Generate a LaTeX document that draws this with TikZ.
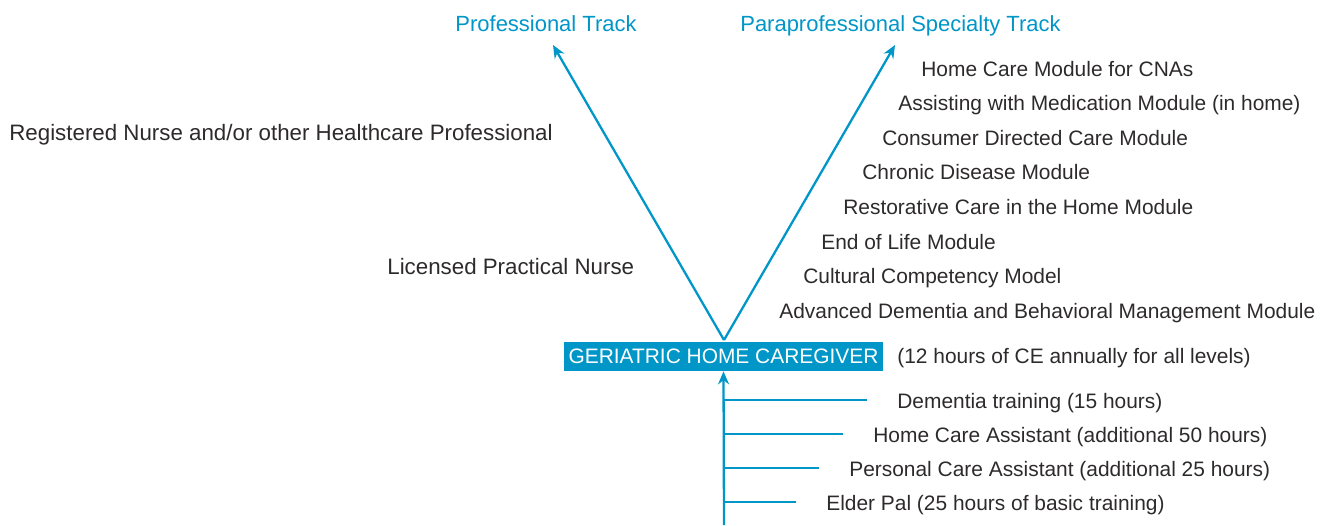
\documentclass[tikz,border=0pt]{standalone}
\usepackage{fontspec}
\setmainfont{Liberation Sans}
\usepackage{xcolor}
\definecolor{trackblue}{RGB}{0,150,200}
\definecolor{textgray}{RGB}{45,42,43}
\usepackage{tikz}
\usetikzlibrary{arrows.meta, positioning}

\begin{document}
\begin{tikzpicture}[
	title/.style={text=trackblue, font=\fontsize{12.5}{14}\selectfont, inner sep=0pt,
	              text height=9pt, text depth=2.5pt},
	item/.style={text=textgray, font=\fontsize{11.9}{14}\selectfont, inner sep=0pt, anchor=west,
	             text height=9pt, text depth=2.5pt},
	wide/.style={item, font=\fontsize{12.7}{14}\selectfont},
	level/.style={rectangle, fill=trackblue, text=white, font=\fontsize{11.9}{14}\selectfont,
	              minimum width=6.38cm, minimum height=0.58cm, inner sep=2pt},
	arr/.style={-{Stealth[length=2.6mm, width=2.2mm]}, draw=trackblue, line width=1.3pt},
	tick/.style={draw=trackblue, line width=1.3pt}
	]
\useasboundingbox (0,0) rectangle (26.5,-10.5);

% Stufe in der Mitte
\node[level] (gh) at (14.47,-7.13) {GERIATRIC HOME CAREGIVER};
\node[item] (ce) at (17.94,-7.16) {(12 hours of CE annually for all levels)};
\coordinate (apex) at (14.48,-6.80);
\coordinate (base) at (14.48,-10.5);

% Zwei Richtungen
\node[title] (pro) at (10.92,-0.52) {Professional Track};
\node[title] (para) at (18.01,-0.52) {Paraprofessional Specialty Track};
\coordinate (protip) at (11.06,-0.90);
\coordinate (paratip) at (17.90,-0.90);
\draw[arr] (apex) -- (protip);
\draw[arr] (apex) -- (paratip);

% Professional track
\node[wide] (rn) at (0.18,-2.70) {Registered Nurse and/or other Healthcare Professional};
\node[wide] (lpn) at (7.74,-5.38) {Licensed Practical Nurse};

% Module rechts
\node[item] (m1) at (18.42,-1.42) {Home Care Module for CNAs};
\node[item] (m2) at (17.96,-2.10) {Assisting with Medication Module (in home)};
\node[item] (m3) at (17.64,-2.80) {Consumer Directed Care Module};
\node[item] (m4) at (17.24,-3.48) {Chronic Disease Module};
\node[item] (m5) at (16.86,-4.18) {Restorative Care in the Home Module};
\node[item] (m6) at (16.42,-4.88) {End of Life Module};
\node[item] (m7) at (16.06,-5.56) {Cultural Competency Model};
\node[item] (m8) at (15.58,-6.26) {Advanced Dementia and Behavioral Management Module};

% Grundausbildung unten
\draw[arr] (base) -- (gh.south);
\node[item] (b1) at (17.94,-8.06) {Dementia training (15 hours)};
\node[item] (b2) at (17.46,-8.74) {Home Care Assistant (additional 50 hours)};
\node[item] (b3) at (16.98,-9.42) {Personal Care Assistant (additional 25 hours)};
\node[item] (b4) at (16.52,-10.10) {Elder Pal (25 hours of basic training)};
\foreach \b in {b1,b2,b3,b4}
	\draw[tick] ([xshift=-6mm,yshift=0.6mm]\b.west) coordinate (t) -- (t -| apex);

\end{tikzpicture}
\end{document}
